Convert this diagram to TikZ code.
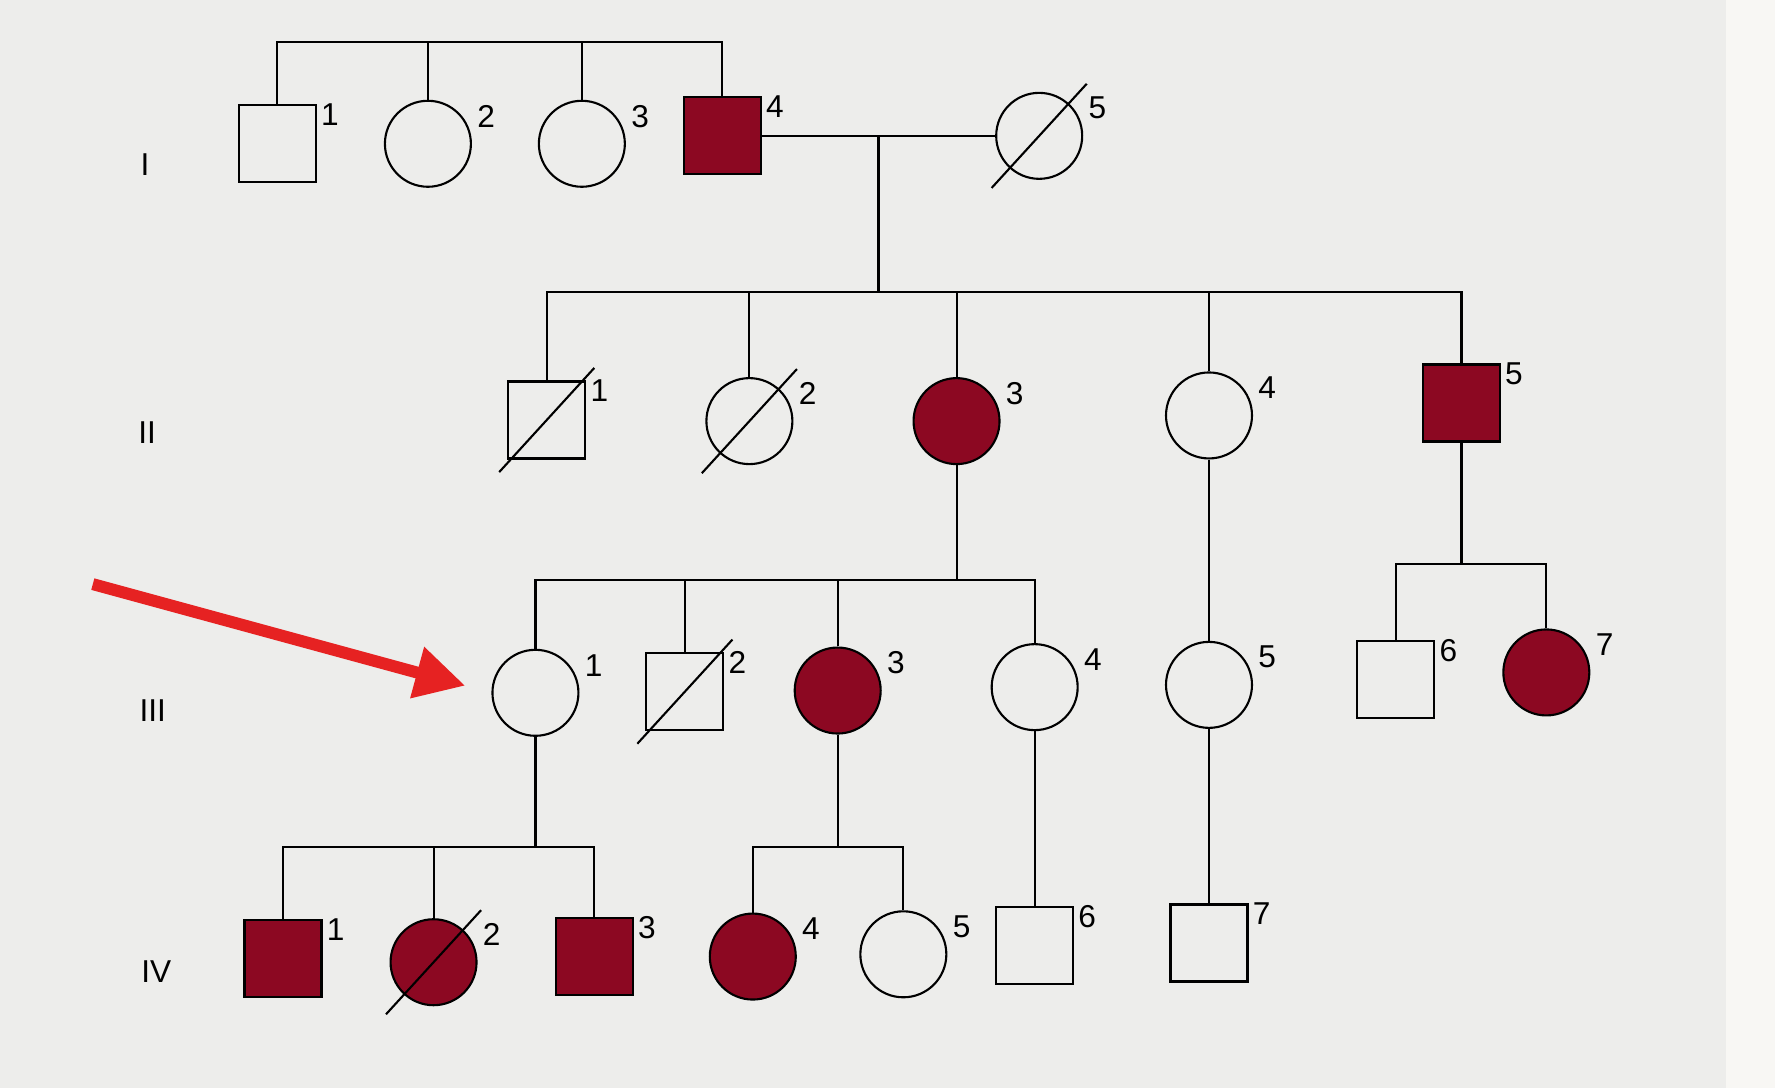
\documentclass[tikz,border=0pt]{standalone}
\usepackage{fontspec}
\setmainfont{Liberation Sans}
\usepackage{tikz}
\usetikzlibrary{arrows.meta}
\definecolor{affected}{RGB}{140,8,34}
\definecolor{pointer}{RGB}{230,34,34}
\definecolor{paper}{RGB}{237,237,235}
\definecolor{margin}{RGB}{248,247,244}
\tikzstyle{male}=[draw, rectangle, minimum size=0.77cm, inner sep=0pt, line width=0.6pt]
\tikzstyle{female}=[draw, circle, minimum size=0.86cm, inner sep=0pt, line width=0.6pt]
\tikzstyle{malered}=[male, fill=affected]
\tikzstyle{femalered}=[female, fill=affected]
\tikzstyle{numsq}=[font=\fontsize{9}{10}\selectfont, anchor=west, inner sep=1pt, yshift=-3pt]
\tikzstyle{numci}=[font=\fontsize{9}{10}\selectfont, anchor=west, inner sep=1pt, xshift=4pt, yshift=-1pt]
\tikzstyle{gen}=[font=\fontsize{9}{10}\selectfont]
\tikzstyle{line}=[line width=0.6pt]

\begin{document}
\begin{tikzpicture}[x=0.01132cm, y=-0.01132cm]
		   \useasboundingbox (0,0) rectangle (1568,961);
		   \fill[paper] (0,0) rectangle (1568,961);
		   \fill[margin] (1525,0) rectangle (1568,961);
		   \begin{scope}
			   % generations
			   \node (gI) at (128,145)[gen] {I};
			   \node (gII) at (130,382)[gen] {II};
			   \node (gIII) at (135,628)[gen] {III};
			   \node (gIV) at (138,858)[gen] {IV};

			   \node (i1) at (245,127)[male, label={[numsq]north east:1}] {};
			   \node (i2) at (378,127)[female, label={[numci]north east:2}] {};
			   \node (i3) at (514,127)[female, label={[numci]north east:3}] {};
			   \node (i4) at (638,120)[malered, label={[numsq]north east:4}] {};
			   \node (i5) at (918,120)[female, label={[numci]north east:5}] {};

			   \node (ii1) at (483,371)[male, label={[numsq]north east:1}] {};
			   \node (ii2) at (662,372)[female, label={[numci]north east:2}] {};
			   \node (ii3) at (845,372)[femalered, label={[numci]north east:3}] {};
			   \node (ii4) at (1068,367)[female, label={[numci]north east:4}] {};
			   \node (ii5) at (1291,356)[malered, label={[numsq]north east:5}] {};

			   \node (iii1) at (473,612)[female, label={[numci]north east:1}] {};
			   \node (iii2) at (605,611)[male, label={[numsq]north east:2}] {};
			   \node (iii3) at (740,610)[femalered, label={[numci]north east:3}] {};
			   \node (iii4) at (914,607)[female, label={[numci]north east:4}] {};
			   \node (iii5) at (1068,605)[female, label={[numci]north east:5}] {};
			   \node (iii6) at (1233,600)[male, label={[numsq]north east:6}] {};
			   \node (iii7) at (1366,594)[femalered, label={[numci]north east:7}] {};

			   \node (iv1) at (250,847)[malered, label={[numsq]north east:1}] {};
			   \node (iv2) at (383,850)[femalered, label={[numci]north east:2}] {};
			   \node (iv3) at (525,845)[malered, label={[numsq]north east:3}] {};
			   \node (iv4) at (665,845)[femalered, label={[numci]north east:4}] {};
			   \node (iv5) at (798,843)[female, label={[numci]north east:5}] {};
			   \node (iv6) at (914,835)[male, label={[numsq]north east:6}] {};
			   \node (iv7) at (1068,833)[male, label={[numsq]north east:7}] {};

			   \coordinate (g1) at (0,37);
			   \coordinate (g2) at (0,258);
			   \coordinate (g3) at (0,512);
			   \coordinate (g4) at (0,498);
			   \coordinate (g5) at (0,748);
			   \coordinate (m1) at (776,120);
			   \coordinate (ptr) at (82,516);
		   \end{scope}
		   \begin{scope}[line]
			   % deceased
			   \foreach \n in {i5,ii1,ii2,iii2,iv2}
				   \draw (\n.center) ++(-42,46) -- ++(84,-92);

			   \draw (i1.north) |- (i4.north |- g1) -- (i4.north);
			   \draw (i2.north) -- (i2.north |- g1);
			   \draw (i3.north) -- (i3.north |- g1);
			   \draw (i4.east) -- (i5.west);
			   \draw (m1) -- (m1 |- g2);

			   \draw (ii1.north) |- (ii5.north |- g2) -- (ii5.north);
			   \draw (ii2.north) -- (ii2.north |- g2);
			   \draw (ii3.north) -- (ii3.north |- g2);
			   \draw (ii4.north) -- (ii4.north |- g2);

			   \draw (ii3.south) -- (ii3.south |- g3);
			   \draw (iii1.north) |- (iii4.north |- g3) -- (iii4.north);
			   \draw (iii2.north) -- (iii2.north |- g3);
			   \draw (iii3.north) -- (iii3.north |- g3);
			   \draw (ii4) -- (iii5);
			   \draw (ii5.south) -- (ii5.south |- g4);
			   \draw (iii6.north) |- (iii7.north |- g4) -- (iii7.north);

			   \draw (iii1.south) -- (iii1.south |- g5);
			   \draw (iv1.north) |- (iv3.north |- g5) -- (iv3.north);
			   \draw (iv2.north) -- (iv2.north |- g5);
			   \draw (iii3.south) -- (iii3.south |- g5);
			   \draw (iv4.north) |- (iv5.north |- g5) -- (iv5.north);
			   \draw (iii4) -- (iv6);
			   \draw (iii5) -- (iv7);
		   \end{scope}
		   \draw[pointer, line width=3.4pt, -{Triangle[length=0.5cm, width=0.5cm]}, shorten >=0.27cm] (ptr) -- (iii1.west);
	   \end{tikzpicture}
\end{document}
